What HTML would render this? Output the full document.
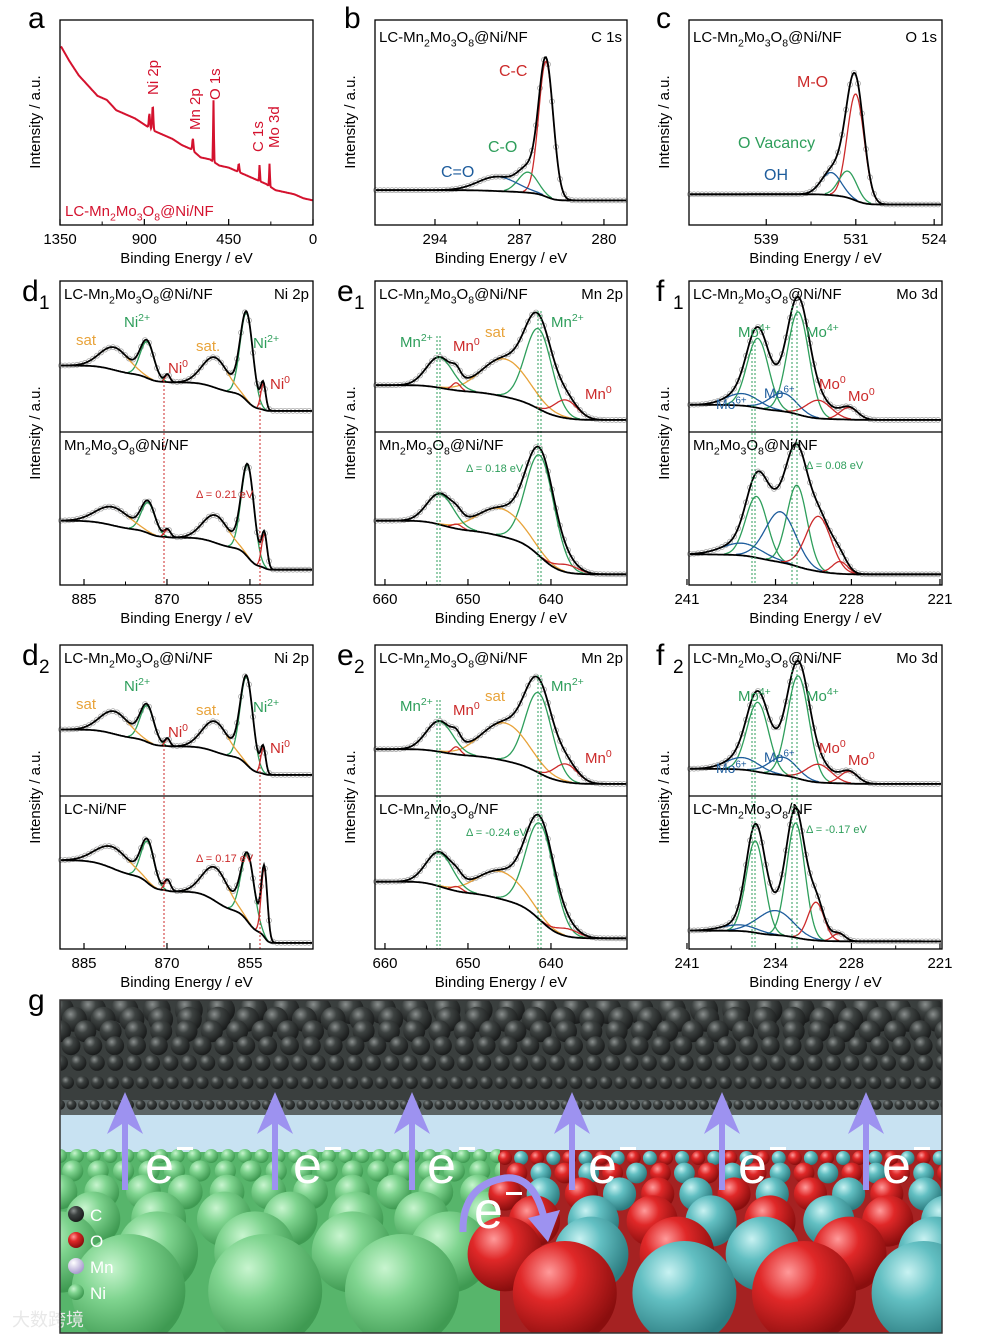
<!DOCTYPE html>
<html><head><meta charset="utf-8"><style>
html,body{margin:0;padding:0;background:#fff;}
svg{display:block;font-family:"Liberation Sans","Noto Sans CJK SC",sans-serif;}
</style></head><body>
<svg id="fig" width="1002" height="1336" viewBox="0 0 1002 1336" xmlns="http://www.w3.org/2000/svg">
<defs>
<radialGradient id="gDark" cx="0.35" cy="0.3" r="0.7"><stop offset="0" stop-color="#8a8f8e"/><stop offset="0.4" stop-color="#3d4241"/><stop offset="1" stop-color="#1a1c1c"/></radialGradient>
<radialGradient id="gGreen" cx="0.35" cy="0.3" r="0.7"><stop offset="0" stop-color="#c8f5cf"/><stop offset="0.4" stop-color="#7fd48f"/><stop offset="1" stop-color="#3f9a52"/></radialGradient>
<radialGradient id="gRed" cx="0.35" cy="0.3" r="0.7"><stop offset="0" stop-color="#ff9a9a"/><stop offset="0.4" stop-color="#e02828"/><stop offset="1" stop-color="#8a0e0e"/></radialGradient>
<radialGradient id="gCyan" cx="0.35" cy="0.3" r="0.7"><stop offset="0" stop-color="#c8f2f2"/><stop offset="0.4" stop-color="#62bfc2"/><stop offset="1" stop-color="#2c7c80"/></radialGradient>
<radialGradient id="gMn" cx="0.35" cy="0.3" r="0.7"><stop offset="0" stop-color="#ffffff"/><stop offset="1" stop-color="#a99ccf"/></radialGradient>
</defs>
</svg>
<script>
// ---------- DATA ----------
const surveyEnergies = [1350,1300,1250,1200,1150,1100,1050,1000,950,900,850,800,750,700,650,600,550,500,450,400,350,300,250,200,150,100,50,0];
const surveyIntensity = [0.88,0.80,0.73,0.68,0.63,0.61,0.56,0.54,0.52,0.49,0.46,0.44,0.42,0.39,0.37,0.33,0.32,0.29,0.28,0.26,0.24,0.22,0.20,0.17,0.16,0.15,0.13,0.12];
const surveyPeaks = [[855,0.12,3],[873,0.07,3],[641,0.06,3],[531,0.30,2],[285,0.08,2],[232,0.11,2],[396,0.04,3]];

const c1sPeaks = [[284.8,0.66,0.6,'r'],[286.3,0.10,0.8,'g'],[288.8,0.07,1.6,'b']];
const o1sPeaks = [[531.0,0.52,0.75,'r'],[531.7,0.13,0.8,'g'],[533.2,0.11,0.9,'b']];

const ni1TopPeaks = [[855.6,0.58,1.15,'g'],[861.3,0.20,2.3,'o'],[852.6,0.17,0.45,'r'],[873.6,0.24,1.25,'g'],[879.5,0.15,2.6,'o'],[869.9,0.05,0.45,'r']];
const ni1BotPeaks = [[855.4,0.60,1.15,'g'],[861.2,0.18,2.3,'o'],[852.4,0.22,0.5,'r'],[873.4,0.20,1.25,'g'],[879.8,0.12,3.0,'o'],[869.9,0.05,0.55,'r']];
const ni2BotPeaks = [[855.4,0.44,1.2,'g'],[861.2,0.22,2.3,'o'],[852.4,0.45,0.55,'r'],[873.5,0.27,1.2,'g'],[879.8,0.14,3.0,'o'],[869.9,0.07,0.55,'r']];

const mnTopPeaks = [[641.5,0.53,1.6,'g'],[645.5,0.25,2.8,'o'],[638.2,0.12,1.4,'r'],[653.4,0.20,1.6,'g'],[651.4,0.05,0.5,'r']];
const mn1BotPeaks = [[641.3,0.66,1.7,'g'],[646.0,0.18,2.8,'o'],[638.0,0.05,1.4,'r'],[653.3,0.20,1.6,'g'],[651.3,0.03,0.6,'r']];
const mn2BotPeaks = [[641.3,0.63,1.7,'g'],[646.0,0.18,2.8,'o'],[638.0,0.05,1.4,'r'],[653.4,0.22,1.6,'g'],[651.3,0.03,0.6,'r']];

const moTopPeaks = [[232.2,0.68,0.85,'g'],[235.4,0.46,0.85,'g'],[233.4,0.12,1.1,'b'],[236.6,0.08,1.3,'b'],[230.6,0.12,1.0,'r'],[228.2,0.08,0.7,'r']];
const mo1BotPeaks = [[232.3,0.53,0.8,'g'],[235.5,0.40,0.85,'g'],[233.6,0.33,1.2,'b'],[236.6,0.08,1.6,'b'],[230.6,0.36,1.0,'r'],[228.9,0.08,0.6,'r']];
const mo2BotPeaks = [[232.4,0.75,0.72,'g'],[235.6,0.60,0.72,'g'],[234.0,0.16,1.4,'b'],[236.8,0.04,1.4,'b'],[230.8,0.25,0.65,'r'],[229.0,0.05,0.5,'r']];

const tickA=[1350,900,450,0], tickB=[294,287,280], tickC=[539,531,524], tickD=[885,870,855], tickE=[660,650,640], tickF=[241,234,228,221];

// ---------- helpers ----------
const NS='http://www.w3.org/2000/svg';
const svg=document.getElementById('fig');
const COL={g:'#2e9e5b',o:'#e8a33a',r:'#cc2a2a',b:'#1d5c9c'};
function el(tag,attrs,parent){const e=document.createElementNS(NS,tag);for(const k in attrs)e.setAttribute(k,attrs[k]);(parent||svg).appendChild(e);return e;}
function txt(x,y,str,size,color,parent,anchor,rot){
  const t=el('text',{x:x,y:y,'font-size':size,fill:color||'#000','text-anchor':anchor||'start'},parent);
  if(rot)t.setAttribute('transform','rotate('+rot+' '+x+' '+y+')');
  const parts=str.split(/([_^]\{[^}]*\})/);let shift=0;
  parts.forEach(p=>{if(!p)return;const s=el('tspan',{},t);
    if(p[0]==='_'||p[0]==='^'){const d=p[0]==='_'?size*0.3:-size*0.4;s.setAttribute('dy',d-shift);shift=d;s.setAttribute('font-size',size*0.7);s.textContent=p.slice(2,-1);}
    else{if(shift){s.setAttribute('dy',-shift);shift=0;}s.textContent=p;}});
  return t;}
function gauss(E,c,h,s){return h*Math.exp(-0.5*((E-c)/s)*((E-c)/s));}

function frame(g,x0,x1,yt,yb,name){el('rect',{x:x0,y:yt,width:x1-x0,height:yb-yt,fill:'none',stroke:'#000','stroke-width':1.3},g);}
function axis(g,x0,x1,yb,eL,eR,ticks,name){
  const ax=el('g',{},g);
  const X=E=>x0+(E-eL)/(eR-eL)*(x1-x0);
  ticks.forEach((t,i)=>{const x=X(t);el('line',{x1:x,x2:x,y1:yb,y2:yb-6,stroke:'#000','stroke-width':1.2},ax);
    txt(x,yb+19,String(t),15,'#000',ax,'middle');
    if(i<ticks.length-1){const xm=(x+X(ticks[i+1]))/2;el('line',{x1:xm,x2:xm,y1:yb,y2:yb-3.5,stroke:'#000','stroke-width':1},ax);}});
  txt((x0+x1)/2,yb+38,'Binding Energy / eV',15,'#000',ax,'middle');
  return X;}

function drawSub(g,x0,x1,eL,eR,yt,yb,bgHigh,bgLow,peaks,name){
  const sg=el('g',{},g);
  const N=x1-x0-2, xs=[],Es=[],S=[];
  for(let i=0;i<=N;i++){const x=x0+1+i;xs.push(x);const E=eL+(x-x0)/(x1-x0)*(eR-eL);Es.push(E);
    let s=0;peaks.forEach(p=>s+=gauss(E,p[0],p[1],p[2]));S.push(s);}
  const cum=new Array(N+1);let acc=0;for(let i=N;i>=0;i--){acc+=S[i];cum[i]=acc;}
  const bg=cum.map(c=>bgLow+(bgHigh-bgLow)*c/acc);
  const Y=v=>yb-v*(yb-yt);
  const pts=el('g',{fill:'none',stroke:'#a8a8a8','stroke-width':0.8},sg);
  for(let i=0;i<=N;i+=4)el('circle',{cx:xs[i],cy:Y(bg[i]+S[i]),r:2.5},pts);
  peaks.forEach(p=>{let d='';let started=false;
    for(let i=0;i<=N;i++){const v=gauss(Es[i],p[0],p[1],p[2]);if(v<0.004)continue;
      d+=(started?'L':'M')+xs[i].toFixed(1)+','+Y(bg[i]+v).toFixed(1);started=true;}
    if(d){const pe=el('path',{d:d,fill:'none',stroke:COL[p[3]],'stroke-width':1.3},sg);}});
  let db='',de='';for(let i=0;i<=N;i++){db+=(i?'L':'M')+xs[i]+','+Y(bg[i]).toFixed(1);de+=(i?'L':'M')+xs[i]+','+Y(bg[i]+S[i]).toFixed(1);}
  el('path',{d:db,fill:'none',stroke:'#000','stroke-width':1.8},sg);
  el('path',{d:de,fill:'none',stroke:'#000','stroke-width':1.8},sg);
}
function vdash(g,x,y1,y2,c){const l=el('line',{x1:x,x2:x,y1:y1,y2:y2,stroke:c,'stroke-width':1,'stroke-dasharray':'2,2'},g);}
function ylab(g,x,yc){txt(x,yc,'Intensity / a.u.',15,'#000',g,'middle',-90);}
function letter(g,x,y,s,sub){txt(x,y,s,30,'#000',g);if(sub){txt(x+17,y+8,sub,19,'#000',g);} }

// ---------- panel a ----------
(function(){const g=el('g',{});
 letter(g,28,28,'a');ylab(g,40,122);
 const x0=60,x1=313,yt=20,yb=225;axis(g,x0,x1,yb,1350,0,tickA,'x-axis-a');
 const Y=v=>yb-v*(yb-yt);
 function base(E){for(let i=0;i<surveyEnergies.length-1;i++){const a=surveyEnergies[i],b=surveyEnergies[i+1];if(E<=a&&E>=b){const f=(a-E)/(a-b);return surveyIntensity[i]+(surveyIntensity[i+1]-surveyIntensity[i])*f;}}return surveyIntensity[surveyIntensity.length-1];}
 let d='';for(let x=x0+1;x<x1;x+=0.5){const E=1350-(x-x0)/(x1-x0)*1350;let v=base(E);surveyPeaks.forEach(p=>v+=gauss(E,p[0],p[1],p[2]));d+=(d?'L':'M')+x+','+Y(v).toFixed(1);}
 el('path',{d:d,fill:'none',stroke:'#d4122e','stroke-width':2},g);
 frame(g,x0,x1,yt,yb,'frame-a');
 txt(158,95,'Ni 2p',15,'#d4122e',g,'start',-90);txt(200,130,'Mn 2p',15,'#d4122e',g,'start',-90);
 txt(220,100,'O 1s',15,'#d4122e',g,'start',-90);txt(263,152,'C 1s',15,'#d4122e',g,'start',-90);txt(279,148,'Mo 3d',15,'#d4122e',g,'start',-90);
 txt(65,216,'LC-Mn_{2}Mo_{3}O_{8}@Ni/NF',15,'#d4122e',g);
})();
// ---------- panel b ----------
(function(){const g=el('g',{});
 letter(g,344,28,'b');ylab(g,355,122);
 const x0=375,x1=627;axis(g,x0,x1,225,298.97,278.09,tickB,'x-axis-b');
 drawSub(g,x0,x1,298.97,278.09,20,225,0.17,0.12,c1sPeaks,'c1s-fit');frame(g,x0,x1,20,225,'frame-b');
 txt(379,42,'LC-Mn_{2}Mo_{3}O_{8}@Ni/NF',15,'#000',g);txt(622,42,'C 1s',15,'#000',g,'end');
 txt(499,76,'C-C',16,COL.r,g);txt(488,152,'C-O',16,COL.g,g);txt(441,177,'C=O',16,COL.b,g);
})();
// ---------- panel c ----------
(function(){const g=el('g',{});
 letter(g,656,28,'c');ylab(g,669,122);
 const x0=689,x1=942;axis(g,x0,x1,225,545.9,523.3,tickC,'x-axis-c');
 drawSub(g,x0,x1,545.9,523.3,20,225,0.15,0.10,o1sPeaks,'o1s-fit');frame(g,x0,x1,20,225,'frame-c');
 txt(693,42,'LC-Mn_{2}Mo_{3}O_{8}@Ni/NF',15,'#000',g);txt(937,42,'O 1s',15,'#000',g,'end');
 txt(797,87,'M-O',16,COL.r,g);txt(738,148,'O Vacancy',16,COL.g,g);txt(764,180,'OH',16,COL.b,g);
})();
// ---------- d / e / f rows ----------
function rowPanels(off,sub,dBot,eBot,fBot,dLab,eLab,fLab,dDelta,eDelta,fDelta){
 const yt=281+off, ym=432+off, yb=585+off;
 let g=el('g',{});
 letter(g,22,yt+20,'d',sub);ylab(g,40,yt+152);
 axis(g,60,313,yb,889.34,843.6,tickD,'x-axis-d'+sub);
 drawSub(g,60,313,889.34,843.6,yt,ym,0.44,0.14,ni1TopPeaks,'ni2p-top-fit');
 drawSub(g,60,313,889.34,843.6,ym,yb,dBot[1],dBot[2],dBot[0],'ni2p-bottom-fit');
 vdash(g,164,yt+100,yb,'#cc2a2a');vdash(g,260,yt+110,yb,'#cc2a2a');
 frame(g,60,313,yt,yb,'frame-d'+sub);el('line',{x1:60,x2:313,y1:ym,y2:ym,stroke:'#000','stroke-width':1.3},g);
 txt(64,yt+18,'LC-Mn_{2}Mo_{3}O_{8}@Ni/NF',15,'#000',g);txt(309,yt+18,'Ni 2p',15,'#000',g,'end');
 txt(64,ym+18,dLab,15,'#000',g);
 txt(76,yt+64,'sat',15,COL.o,g);txt(124,yt+46,'Ni^{2+}',15,COL.g,g);txt(168,yt+92,'Ni^{0}',15,COL.r,g);
 txt(196,yt+70,'sat.',15,COL.o,g);txt(253,yt+67,'Ni^{2+}',15,COL.g,g);txt(270,yt+108,'Ni^{0}',15,COL.r,g);
 txt(196,ym+66,dDelta,11,COL.r,g);
 g=el('g',{});
 letter(g,337,yt+20,'e',sub);ylab(g,355,yt+152);
 axis(g,375,627,yb,661.2,630.84,tickE,'x-axis-e'+sub);
 drawSub(g,375,627,661.2,630.84,yt,ym,0.31,0.08,mnTopPeaks,'mn2p-top-fit');
 drawSub(g,375,627,661.2,630.84,ym,yb,eBot[1],eBot[2],eBot[0],'mn2p-bottom-fit');
 vdash(g,437,yt+55,yb,'#2e9e5b');vdash(g,440,yt+55,yb,'#2e9e5b');vdash(g,538,yt+30,yb,'#2e9e5b');vdash(g,541,yt+30,yb,'#2e9e5b');
 frame(g,375,627,yt,yb,'frame-e'+sub);el('line',{x1:375,x2:627,y1:ym,y2:ym,stroke:'#000','stroke-width':1.3},g);
 txt(379,yt+18,'LC-Mn_{2}Mo_{3}O_{8}@Ni/NF',15,'#000',g);txt(623,yt+18,'Mn 2p',15,'#000',g,'end');
 txt(379,ym+18,eLab,15,'#000',g);
 txt(400,yt+66,'Mn^{2+}',15,COL.g,g);txt(453,yt+70,'Mn^{0}',15,COL.r,g);txt(485,yt+56,'sat',15,COL.o,g);
 txt(551,yt+46,'Mn^{2+}',15,COL.g,g);txt(585,yt+118,'Mn^{0}',15,COL.r,g);
 txt(466,ym+40,eDelta,11,COL.g,g);
 g=el('g',{});
 letter(g,656,yt+20,'f',sub);ylab(g,669,yt+152);
 axis(g,689,942,yb,240.84,220.84,tickF,'x-axis-f'+sub);
 drawSub(g,689,942,240.84,220.84,yt,ym,0.18,0.08,moTopPeaks,'mo3d-top-fit');
 drawSub(g,689,942,240.84,220.84,ym,yb,fBot[1],fBot[2],fBot[0],'mo3d-bottom-fit');
 vdash(g,752,yt+60,yb,'#2e9e5b');vdash(g,755,yt+60,yb,'#2e9e5b');vdash(g,792,yt+25,yb,'#2e9e5b');vdash(g,797,yt+25,yb,'#2e9e5b');
 frame(g,689,942,yt,yb,'frame-f'+sub);el('line',{x1:689,x2:942,y1:ym,y2:ym,stroke:'#000','stroke-width':1.3},g);
 txt(693,yt+18,'LC-Mn_{2}Mo_{3}O_{8}@Ni/NF',15,'#000',g);txt(938,yt+18,'Mo 3d',15,'#000',g,'end');
 txt(693,ym+18,fLab,15,'#000',g);
 txt(738,yt+56,'Mo^{4+}',15,COL.g,g);txt(806,yt+56,'Mo^{4+}',15,COL.g,g);
 txt(716,yt+128,'Mo^{6+}',14,COL.b,g);txt(764,yt+117,'Mo^{6+}',14,COL.b,g);
 txt(819,yt+108,'Mo^{0}',15,COL.r,g);txt(848,yt+120,'Mo^{0}',15,COL.r,g);
 txt(806,ym+37,fDelta,11,COL.g,g);
}
rowPanels(0,'1',[ni1BotPeaks,0.42,0.10],[mn1BotPeaks,0.42,0.07],[mo1BotPeaks,0.2,0.07],
 'Mn_{2}Mo_{3}O_{8}@Ni/NF','Mn_{2}Mo_{3}O_{8}@Ni/NF','Mn_{2}Mo_{3}O_{8}@Ni/NF','Δ = 0.21 eV','Δ = 0.18 eV','Δ = 0.08 eV');
rowPanels(364,'2',[ni2BotPeaks,0.58,0.04],[mn2BotPeaks,0.44,0.07],[mo2BotPeaks,0.12,0.05],
 'LC-Ni/NF','LC-Mn_{2}Mo_{3}O_{8}/NF','LC-Mn_{2}Mo_{3}O_{8}/NF','Δ = 0.17 eV','Δ = -0.24 eV','Δ = -0.17 eV');

// ---------- panel g (illustration) ----------
(function(){const g=el('g',{});
 txt(28,1010,'g',30,'#000',g);
 el('clipPath',{id:'gclip'},g);document.getElementById('gclip').appendChild(el('rect',{x:60,y:1000,width:882,height:333}));
 const c=el('g',{'clip-path':'url(#gclip)'},g);
 el('rect',{x:60,y:1000,width:882,height:333,fill:'#b7d6ea'},c);
 el('rect',{x:60,y:1000,width:882,height:100,fill:'#3a3f3e'},c);
 el('rect',{x:60,y:1100,width:882,height:15,fill:'#5c6566'},c);
 el('rect',{x:60,y:1115,width:882,height:37,fill:'#c8e2f2'},c);
 for(let r=0;r<7;r++){const rad=14-r*1.5, y=1010+r*r*1.3+r*8, sp=rad*2.3;
  for(let x=60+(r%2)*sp/2;x<950;x+=sp)el('circle',{cx:x,cy:y,r:rad,fill:'url(#gDark)'},c);}
 el('rect',{x:60,y:1152,width:440,height:181,fill:'#57b56b'},c);
 for(let r=0;r<6;r++){const rad=7+r*r*1.6+r*2, y=1156+r*r*3+r*12, sp=rad*2.4;
  for(let x=60+(r%2)*sp/2;x<510;x+=sp)el('circle',{cx:x,cy:y,r:rad,fill:'url(#gGreen)'},c);}
 el('rect',{x:500,y:1150,width:442,height:183,fill:'#a52222'},c);
 for(let r=0;r<6;r++){const rad=7+r*r*1.4+r*2, y=1158+r*r*3+r*12, sp=rad*2.3;let k=0;
  for(let x=505+(r%2)*sp/2;x<950;x+=sp){el('circle',{cx:x,cy:y,r:rad,fill:(k++%2?'url(#gCyan)':'url(#gRed)')},c);}}
 [125,275,412,572,722,866].forEach(x=>{const a=el('g',{},c);
  el('rect',{x:x-3,y:1118,width:6,height:72,fill:'#9d92f0'},a);
  el('polygon',{points:(x-18)+',1134 '+x+',1092 '+(x+18)+',1134 '+x+',1122',fill:'#9d92f0'},a);});
 el('path',{d:'M463,1232 Q462,1185 505,1178 Q535,1175 545,1222',fill:'none',stroke:'#9d92f0','stroke-width':7},c);
 el('polygon',{points:'528,1218 560,1210 548,1242',fill:'#9d92f0'},c);
 [[145,1183],[293,1183],[427,1183],[588,1183],[738,1183],[882,1183],[474,1228]].forEach(p=>{
  txt(p[0],p[1],'e',52,'#ffffff',c);el('rect',{x:p[0]+32,y:p[1]-36,width:16,height:3,fill:'#fff'},c);});
 const L=[['C','url(#gDark)'],['O','url(#gRed)'],['Mn','url(#gMn)'],['Ni','url(#gGreen)']];
 L.forEach((l,i)=>{const y=1214+i*26;el('circle',{cx:76,cy:y,r:8,fill:l[1]},c);txt(90,y+7,l[0],17,'#fff',c);});
 txt(12,1326,'大数跨境',18,'#e8e8e8',g);
 el('rect',{x:60,y:1000,width:882,height:333,fill:'none',stroke:'#333','stroke-width':1.5},g);
})();
</script>
</body></html>
